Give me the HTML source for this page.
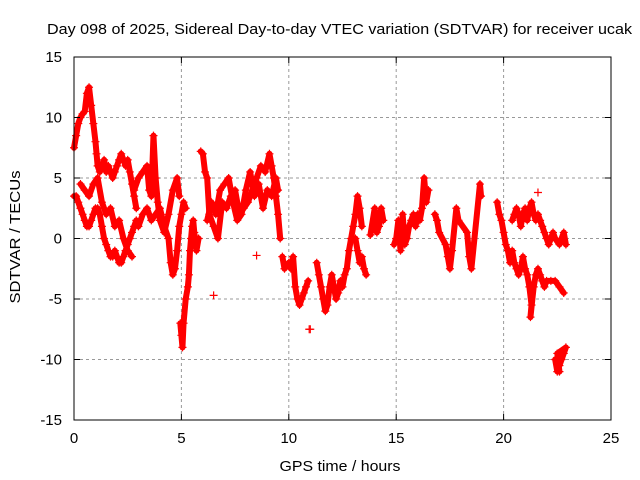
<!DOCTYPE html>
<html><head><meta charset="utf-8"><style>
body{margin:0;background:#fff}
svg{display:block;font-family:"Liberation Sans",sans-serif}
</style></head><body>
<svg id="chart" width="640" height="480">
<rect width="640" height="480" fill="#fff"/>
<g id="grid"></g>
<g id="data"></g>
<rect x="74" y="57" width="537" height="363" fill="none" stroke="#000"/>
<g id="axes"></g>
<text x="339.5" y="34" text-anchor="middle" font-size="15" textLength="585" lengthAdjust="spacingAndGlyphs">Day 098 of 2025, Sidereal Day-to-day VTEC variation (SDTVAR) for receiver ucak</text>
<text x="340" y="471" text-anchor="middle" font-size="15" textLength="121" lengthAdjust="spacingAndGlyphs">GPS time / hours</text>
<text transform="translate(20,237) rotate(-90)" text-anchor="middle" font-size="15" textLength="133" lengthAdjust="spacingAndGlyphs">SDTVAR / TECUs</text>
</svg>
<script>
const xTicks=[0,5,10,15,20,25];
const yTicks=[-15,-10,-5,0,5,10,15];
const seg1=[[0,7.5],[0.1,8.5],[0.2,9.5],[0.3,10],[0.4,10.3],[0.5,10.5],[0.6,12],[0.7,12.5],[0.8,11],[0.9,9.5],[1.0,8],[1.05,7],[1.1,6],[1.2,5.5],[1.3,6],[1.4,6.5],[1.5,5.5],[1.6,6],[1.7,5.5],[1.8,5],[1.9,5.5],[2.0,6],[2.1,6.5],[2.2,7],[2.3,6.5],[2.4,6],[2.5,6.5],[2.6,5.5],[2.7,4.5],[2.8,3.5],[2.9,2.5]];
const seg2=[[0,3.5],[0.1,3.5],[0.2,3],[0.3,2.5],[0.4,2],[0.5,1.5],[0.6,1],[0.7,1],[0.8,1.5],[0.9,2],[1.0,2.5],[1.1,2.5],[1.2,2],[1.3,1],[1.4,0],[1.5,-0.5],[1.6,-1],[1.7,-1.5],[1.8,-1.5],[1.9,-1],[2.0,-1.5],[2.1,-2],[2.2,-2],[2.3,-1.5],[2.4,-1],[2.5,-0.5],[2.6,0],[2.7,0.5],[2.8,1],[2.9,1.5],[3.0,1],[3.2,2],[3.4,2.5],[3.6,1.5],[3.8,2],[4.0,2.5],[4.2,1],[4.4,0],[4.5,-2],[4.6,-3],[4.7,-2.5],[4.8,-1],[4.9,1],[5.0,2],[5.1,3],[5.2,2.5]];
const seg3=[[0.3,4.5],[0.5,4],[0.7,3.5],[0.9,4.5],[1.1,5],[1.3,3],[1.5,2],[1.7,2.5],[1.9,1],[2.1,1.5],[2.3,0],[2.5,-1],[2.7,-1.5]];
const seg4=[[2.8,4],[3.0,5],[3.2,5.5],[3.4,6],[3.5,4],[3.6,3.5],[3.7,8.5],[3.8,5],[3.9,3],[4.0,1.5],[4.2,0.5],[4.4,2],[4.6,4],[4.8,5],[4.9,3.5]];
const seg5=[[4.95,-7],[5.0,-8],[5.05,-9],[5.1,-7],[5.2,-5],[5.3,-4],[5.35,-3],[5.4,-1],[5.45,0],[5.5,1],[5.55,1.5],[5.6,0.5],[5.7,-1],[5.8,0]];
const seg6=[[5.9,7.2],[6.0,7],[6.1,5.5],[6.2,5],[6.3,2],[6.5,1],[6.7,0],[6.9,3],[7.1,2.5],[7.3,3.5],[7.5,4],[7.7,2],[7.9,2.5],[8.1,3],[8.3,4],[8.5,5],[8.7,6],[8.9,5.5],[9.1,7],[9.2,6],[9.3,5],[9.4,3.5],[9.5,2],[9.6,0]];
const seg7=[[6.2,1.5],[6.4,3],[6.6,2],[6.8,4],[7.0,4.5],[7.2,5],[7.4,3],[7.6,1.5],[7.8,2],[8.0,4],[8.2,5.5],[8.4,3.5],[8.6,4.5],[8.8,2.5],[9.0,4],[9.2,3.5],[9.4,5],[9.5,4]];
const seg8=[[9.7,-1.5],[9.8,-2.5],[10.0,-2],[10.1,-2.5],[10.2,-1.5],[10.3,-4],[10.4,-5],[10.5,-5.5],[10.6,-5],[10.7,-4.5],[10.8,-4],[10.9,-3.5]];
const seg9=[[11.3,-2],[11.4,-3],[11.5,-4],[11.6,-5],[11.7,-6],[11.8,-5.5],[11.9,-4],[12.0,-3],[12.1,-4],[12.2,-5],[12.3,-4.5],[12.4,-3.5],[12.5,-4],[12.6,-3],[12.7,-2.5],[12.8,-1],[12.9,0],[13.0,1],[13.1,2],[13.2,3.5],[13.3,2.5],[13.4,1]];
const seg10=[[13.1,0],[13.2,-1],[13.3,-2],[13.4,-1.5],[13.5,-2.5],[13.6,-3]];
const seg11=[[13.8,0.3],[14.0,2.5],[14.1,0.5],[14.2,1],[14.3,2.5],[14.4,1.5]];
const seg12=[[14.9,-0.5],[15.0,0],[15.1,1.5],[15.2,-1],[15.3,2],[15.4,-0.5],[15.5,0],[15.6,1],[15.7,1.5],[15.8,2],[15.9,1],[16.0,2],[16.1,1.5],[16.2,2.5],[16.3,5],[16.4,3],[16.5,4]];
const seg13=[[16.8,2],[16.9,1.5],[17.0,0.5],[17.3,-0.5],[17.4,-1.5],[17.5,-2.5],[17.6,-1],[17.8,2.5],[17.9,1.5],[18.3,0.5],[18.4,-1.5],[18.5,-2.5],[18.9,4.5],[18.95,3.5]];
const seg14=[[19.7,3],[19.8,2],[19.9,1.5],[20.0,0.5],[20.1,-0.5],[20.2,-1],[20.3,-2],[20.4,-1],[20.5,-2],[20.6,-2.5],[20.7,-3],[20.8,-2.5],[20.9,-1.5],[21.0,-2.5],[21.1,-3],[21.2,-4],[21.3,-5.5],[21.25,-6.5],[21.4,-4],[21.5,-3],[21.6,-2.5],[21.7,-3],[21.8,-3.5],[21.9,-4],[22.0,-3.5],[22.2,-3.5],[22.4,-3.5],[22.6,-4],[22.8,-4.5]];
const seg15=[[20.4,1.5],[20.5,2],[20.6,2.5],[20.7,2],[20.8,1],[20.9,2],[21.0,2.5],[21.1,1.5],[21.2,2.5],[21.3,3],[21.4,2],[21.5,1.5],[21.6,2],[21.7,1.5],[21.8,1],[21.9,0.5],[22.0,0],[22.1,-0.5],[22.2,0],[22.3,0.5],[22.4,0],[22.6,-0.5],[22.8,0.5],[22.9,-0.5]];
const seg16=[[22.4,-10],[22.5,-11],[22.6,-10.5],[22.7,-10],[22.8,-9.5],[22.9,-9],[22.5,-9.5],[22.6,-11]];
const isolated=[[6.5,-4.7],[8.5,-1.4],[11.0,-7.5],[21.6,3.8],[10.95,-7.5]];
const segments=[seg1,seg2,seg3,seg4,seg5,seg6,seg7,seg8,seg9,seg10,seg11,seg12,seg13,seg14,seg15,seg16];

const NS="http://www.w3.org/2000/svg";
const X=t=>74+t*(537/25);
const Y=v=>238.5-v*(363/30);
const grid=document.getElementById('grid'),axes=document.getElementById('axes'),data=document.getElementById('data');
function mk(tag,attrs,parent){const e=document.createElementNS(NS,tag);for(const k in attrs)e.setAttribute(k,attrs[k]);parent.appendChild(e);return e;}
xTicks.forEach(t=>{
  if(t>0&&t<25){const g=mk('line',{x1:X(t),x2:X(t),y1:57,y2:420,stroke:'#999','stroke-dasharray':'3,3'},grid);
  
  }
  const tk=mk('path',{d:`M${X(t)},420v-6M${X(t)},57v6`,stroke:'#000'},axes);
  
  
  const l=mk('text',{x:X(t),y:443,'text-anchor':'middle','font-size':15},axes);l.textContent=t;
  
  
});
yTicks.forEach(v=>{
  if(v>-15&&v<15){const g=mk('line',{x1:74,x2:611,y1:Y(v),y2:Y(v),stroke:'#999','stroke-dasharray':'3,3'},grid);
  
  }
  const tk=mk('path',{d:`M74,${Y(v)}h6M611,${Y(v)}h-6`,stroke:'#000'},axes);
  
  
  const l=mk('text',{x:62,y:Y(v)+5,'text-anchor':'end','font-size':15},axes);l.textContent=v;
  
  
});
function plus(p,col){const x=X(p[0]),y=Y(p[1]);
  const m=mk('path',{d:`M${x-4},${y}h8M${x},${y-4}v8`,stroke:col,'stroke-width':1.2},data);
  
  }
segments.forEach(s=>{
  const d=s.map((p,i)=>(i?'L':'M')+X(p[0])+','+Y(p[1])).join('');
  const pl=mk('path',{d:d,fill:'none',stroke:'#f00','stroke-width':6,'stroke-linejoin':'round','stroke-linecap':'round'},data);
  
  
  s.forEach(p=>plus(p,'#f00'));
});
isolated.forEach(p=>plus(p,'#f00'));
</script>
</body></html>
